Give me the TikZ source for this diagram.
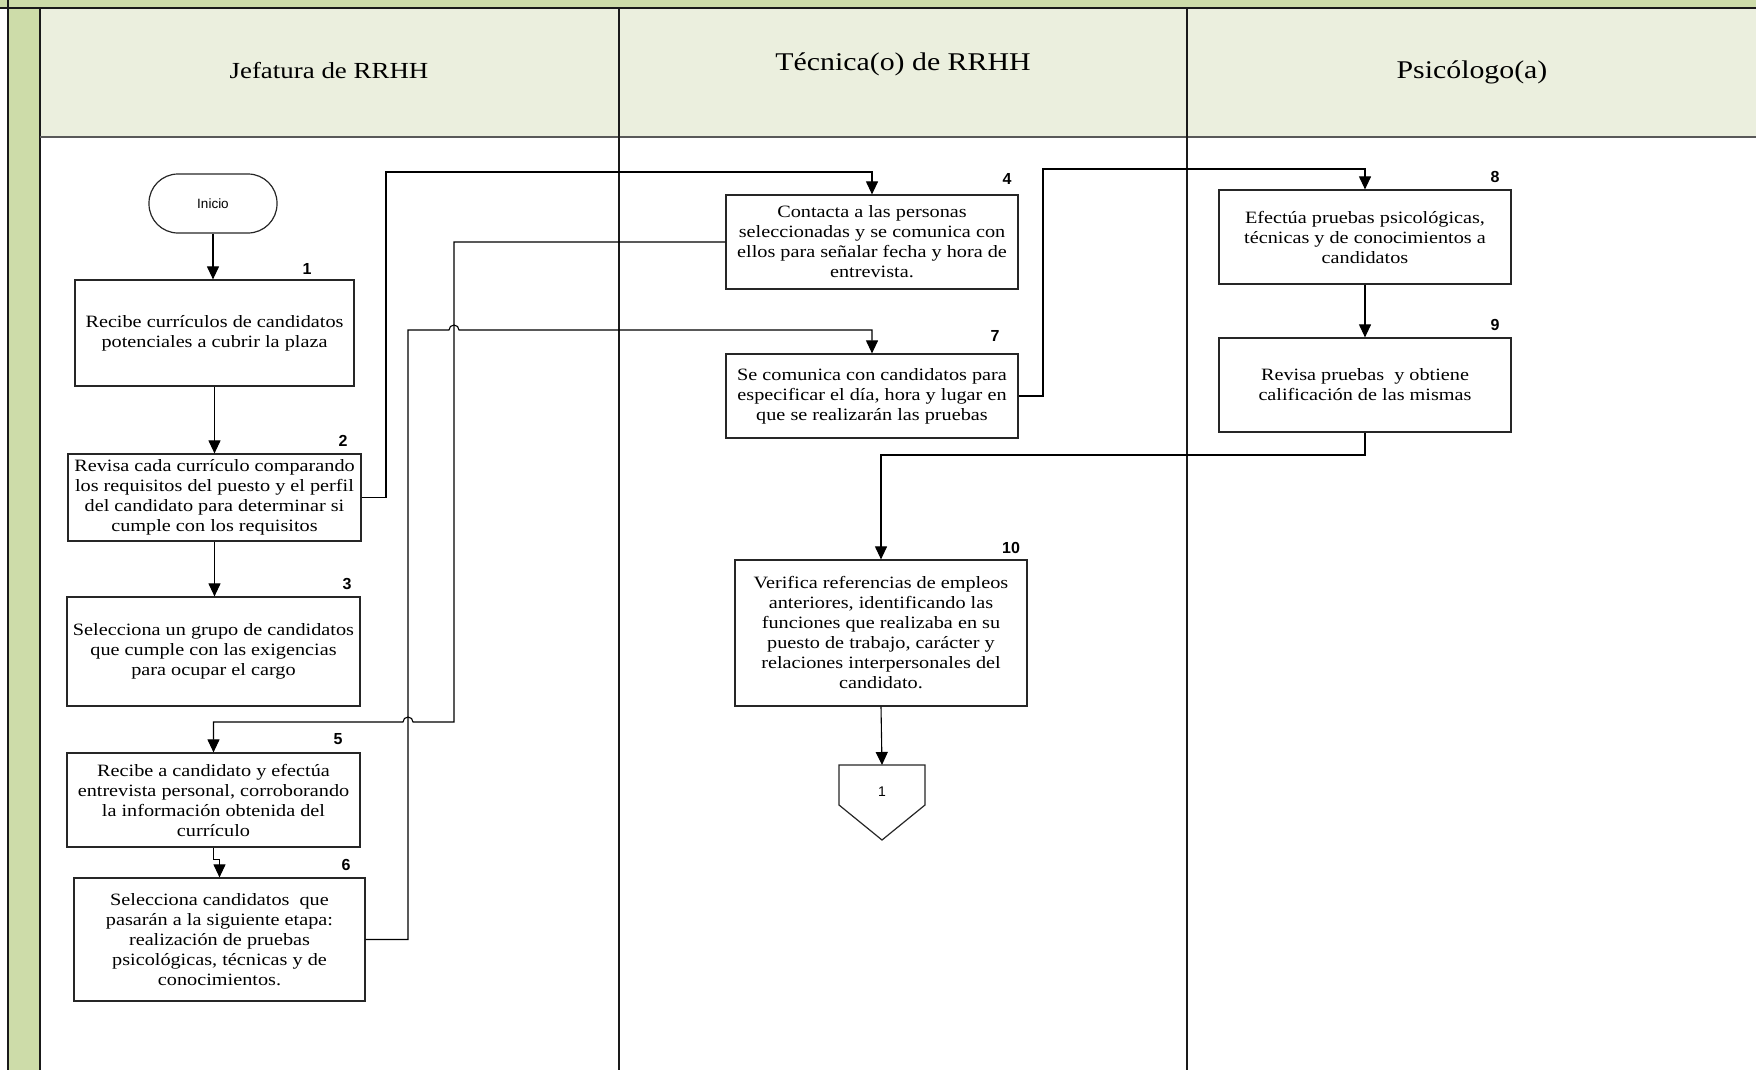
\documentclass[tikz,border=0pt]{standalone}
\usepackage{fontspec}
\setmainfont{Liberation Serif}[FakeStretch=1.17]
\newfontfamily\arialf{Liberation Sans}
\usetikzlibrary{arrows.meta,calc}
\definecolor{hdrfill}{HTML}{EBEFDE}
\definecolor{stripfill}{HTML}{CDDCA9}
\definecolor{lanecol}{HTML}{1A1A1A}
\tikzset{
  procbox/.style={draw=black!85, line width=1.2pt, fill=white, align=center, inner sep=2pt,
    font=\fontsize{17.3}{20}\selectfont},
  numlbl/.style={font=\arialf\bfseries\fontsize{16}{18}\selectfont, inner sep=0pt},
  lanetitle/.style={inner sep=0pt},
  arr/.style={draw=black, line width=1.1pt, -{Triangle[width=12pt,length=13pt]}},
  conn/.style={draw=black, line width=1.1pt},
}
\begin{document}
\begin{tikzpicture}[x=1pt,y=-1pt]
\useasboundingbox (0,0) rectangle (1756,1070);
% frame
\fill[stripfill] (0,0) rectangle (1756,8);
\fill[stripfill] (8,8) rectangle (40,1070);
\fill[hdrfill] (40,8) rectangle (1756,137);
\draw[lanecol, line width=1.6pt] (0,8) -- (1756,8);
\draw[lanecol, line width=1.4pt] (8,0) -- (8,1070);
\draw[lanecol, line width=1.4pt] (40,8) -- (40,1070);
\draw[black!65, line width=2pt] (40,137) -- (1756,137);
\draw[lanecol, line width=1.4pt] (619,8) -- (619,1070);
\draw[lanecol, line width=1.4pt] (1187,8) -- (1187,1070);
% lane titles
\node[lanetitle, font=\fontsize{23}{27}\selectfont] (t1) at (329,71) {Jefatura de RRHH};
\node[lanetitle, font=\fontsize{25.5}{29}\selectfont] (t2) at (903,64) {Técnica(o) de RRHH};
\node[lanetitle, font=\fontsize{25.5}{29}\selectfont] (t3) at (1472,72) {Psicólogo(a)};

% nodes
\node[draw=black!85, line width=1.2pt, rounded corners=29pt, minimum width=128pt, minimum height=59pt,
  font=\arialf\fontsize{13.5}{16}\selectfont] (ini) at (213,203.5) {Inicio};
\node[procbox, minimum width=279pt, minimum height=106pt] (b1) at (214.5,333) {Recibe currículos de candidatos\\potenciales a cubrir la plaza};
\node[procbox, minimum width=293pt, minimum height=87pt] (b2) at (214.5,497.5) {Revisa cada currículo comparando\\los requisitos del puesto y el perfil\\del candidato para determinar si\\cumple con los requisitos};
\node[procbox, minimum width=293pt, minimum height=109pt] (b3) at (213.5,651.5) {Selecciona un grupo de candidatos\\que cumple con las exigencias\\para ocupar el cargo};
\node[procbox, minimum width=293pt, minimum height=94pt] (b5) at (213.5,800) {Recibe a candidato y efectúa\\entrevista personal, corroborando\\la información obtenida del\\currículo};
\node[procbox, minimum width=291pt, minimum height=123pt] (b6) at (219.5,939.5) {Selecciona candidatos\ \ que\\pasarán a la siguiente etapa:\\realización de pruebas\\psicológicas, técnicas y de\\conocimientos.};
\node[procbox, minimum width=292pt, minimum height=94pt] (b4) at (872,242) {Contacta a las personas\\seleccionadas y se comunica con\\ellos para señalar fecha y hora de\\entrevista.};
\node[procbox, minimum width=292pt, minimum height=84pt] (b7) at (872,396) {Se comunica con candidatos para\\especificar el día, hora y lugar en\\que se realizarán las pruebas};
\node[procbox, minimum width=292pt, minimum height=146pt] (b10) at (881,633) {Verifica referencias de empleos\\anteriores, identificando las\\funciones que realizaba en su\\puesto de trabajo, carácter y\\relaciones interpersonales del\\candidato.};
\node[procbox, minimum width=292pt, minimum height=94pt] (b8) at (1365,237) {Efectúa pruebas psicológicas,\\técnicas y de conocimientos a\\candidatos};
\node[procbox, minimum width=292pt, minimum height=94pt] (b9) at (1365,385) {Revisa pruebas\ \ y obtiene\\calificación de las mismas};

% off-page connector
\draw[draw=black!85, line width=1.2pt, fill=white] (839,765) -- (925,765) -- (925,805) -- (882,840) -- (839,805) -- cycle;
\coordinate (optop) at (882,765);
\node[font=\arialf\fontsize{14}{16}\selectfont] (op) at (882,792) {1};

% step numbers
\node[numlbl] (n1) at (307,269) {1};
\node[numlbl] (n2) at (343,441) {2};
\node[numlbl] (n3) at (347,584) {3};
\node[numlbl] (n4) at (1007,179) {4};
\node[numlbl] (n5) at (338,739) {5};
\node[numlbl] (n6) at (346,865) {6};
\node[numlbl] (n7) at (995,336) {7};
\node[numlbl] (n8) at (1495,177) {8};
\node[numlbl] (n9) at (1495,325) {9};
\node[numlbl] (n10) at (1011,548) {10};

% connectors
\draw[arr] (ini.south) -- (b1.north -| ini.south);
\draw[arr] (b1.south) -- (b2.north);
\draw[arr] (b2.south) -- (b3.north -| b2.south);
\draw[arr] (b2.east) -| (386,172) -| (b4.north);
\draw[arr] (b4.west) -| (454,722) -- (413,722) arc[start angle=0,end angle=180,radius=5pt] -| (b5.north);
\draw[arr] (b5.south) -- ++(0,12) -| (b6.north);
\draw[arr] (b6.east) -| (408,330) -- (449,330) arc[start angle=180,end angle=0,radius=5pt] -| (b7.north);
\draw[arr] (b7.east) -| (1043,169) -| (b8.north);
\draw[arr] (b8.south) -- (b9.north);
\draw[arr] (b9.south) |- (881,455) -| (b10.north);
\draw[arr] (b10.south) -- (optop);
\end{tikzpicture}
\end{document}
